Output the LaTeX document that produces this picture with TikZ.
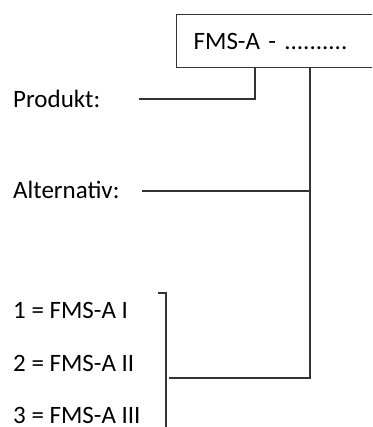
\documentclass[tikz,border=0pt]{standalone}
\usepackage{fontspec}
\setmainfont{Carlito}
\begin{document}
\begin{tikzpicture}[x=1pt,y=-1pt,
  lbl/.style={anchor=base west, inner sep=0pt, font=\fontsize{25}{29}\selectfont, text=black},
  conn/.style={draw=black!80, line width=1.3pt},
  boxst/.style={draw=black!80, line width=1.3pt, anchor=north west, minimum width=230pt, minimum height=53pt,
    text width=196pt, inner xsep=17pt, inner ysep=0pt, align=left, font=\fontsize{25}{29}\selectfont}]
\useasboundingbox (0,0) rectangle (372,427);
\clip (0,0) rectangle (372,427);
\node[boxst] (box) at (176,14) {FMS-A - ..........};
\node[lbl] (prod) at (13,107.5) {Produkt:};
\node[lbl] (alt) at (13,199) {Alternativ:};
\node[lbl] (a1) at (13,318) {1 = FMS-A I};
\node[lbl] (a2) at (13,371) {2 = FMS-A II};
\node[lbl] (a3) at (13,423) {3 = FMS-A III};
\coordinate (pb) at (255,67);
\coordinate (pl) at (139,99);
\coordinate (mb) at (310,67);
\coordinate (mc) at (310,378);
\coordinate (bl) at (169,378);
\coordinate (al) at (142,191);
\coordinate (ar) at (310,191);
\coordinate (bt) at (158,293);
\coordinate (bc) at (166,293);
\coordinate (bd) at (166,430);
\draw[conn] (pb) |- (pl);
\draw[conn] (mb) -- (mc) -- (bl);
\draw[conn] (al) -- (ar);
\draw[conn] (bt) -- (bc) -- (bd);
\end{tikzpicture}
\end{document}
